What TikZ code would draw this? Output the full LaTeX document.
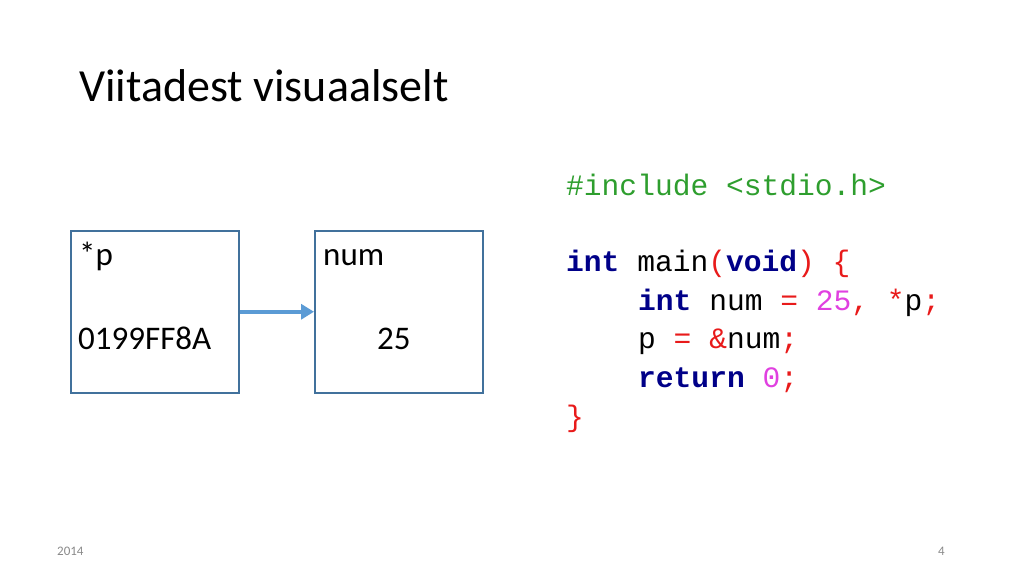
\documentclass[tikz,border=0pt]{standalone}
\usepackage{fontspec}
\usepackage{tikz}
\usetikzlibrary{arrows.meta}
\setmainfont{Carlito}
\setmonofont{Liberation Mono}
\definecolor{boxline}{HTML}{41719C}
\definecolor{arrowblue}{HTML}{5B9BD5}
\definecolor{codegreen}{HTML}{2E9E2E}
\definecolor{codenavy}{HTML}{000088}
\definecolor{codered}{HTML}{E81A1A}
\definecolor{codepink}{HTML}{E040E0}
\definecolor{footgray}{HTML}{898989}
\newcommand{\kw}[1]{\textcolor{codenavy}{\textbf{#1}}}
\newcommand{\op}[1]{\textcolor{codered}{#1}}
\newcommand{\nm}[1]{\textcolor{codepink}{#1}}

\begin{document}
\begin{tikzpicture}[x=1pt, y=-1pt,
	every node/.style={inner sep=0pt, anchor=base west},
	memcell/.style={draw=boxline, line width=1.5pt, anchor=north west,
		minimum width=168pt, minimum height=162pt},
	celltext/.style={font=\fontsize{33}{40}\selectfont},
	codeline/.style={font=\ttfamily\fontsize{29.6}{36}\selectfont},
	foot/.style={font=\fontsize{13}{15}\selectfont, text=footgray}]
	\useasboundingbox (0,0) rectangle (1024,576);
	\node[font=\fontsize{46}{55}\selectfont] (title) at (79,101) {Viitadest visuaalselt};
	% memory cells
	\node[memcell] (cellp)   at (70,230)  {};
	\node[memcell] (cellnum) at (314,230) {};
	\node[celltext] (namep)   at (79,265)  {*p};
	\node[celltext] (valp)    at (78,349)  {0199FF8A};
	\node[celltext] (namenum) at (323,265) {num};
	\node[celltext] (valnum)  at (377,349) {25};
	\draw[arrowblue, line width=4.5pt, -{Triangle[length=13pt, width=15pt]}]
		(cellp.east) -- (cellnum.west);
	% code
	\node[codeline] (c1) at (566,195) {\textcolor{codegreen}{\#include <stdio.h>}};
	\node[codeline] (c2) at (566,271) {\kw{int} main\op{(}\kw{void}\op{)} \op{\{}};
	\node[codeline] (c3) at (638,310) {\kw{int} num \op{=} \nm{25}\op{,} \op{*}p\op{;}};
	\node[codeline] (c4) at (638,348) {p \op{=} \op{\&}num\op{;}};
	\node[codeline] (c5) at (638,387) {\kw{return} \nm{0}\op{;}};
	\node[codeline] (c6) at (566,426) {\op{\}}};
	% footer
	\node[foot] (year) at (57,555) {2014};
	\node[foot] (page) at (938,555) {4};
\end{tikzpicture}
\end{document}
